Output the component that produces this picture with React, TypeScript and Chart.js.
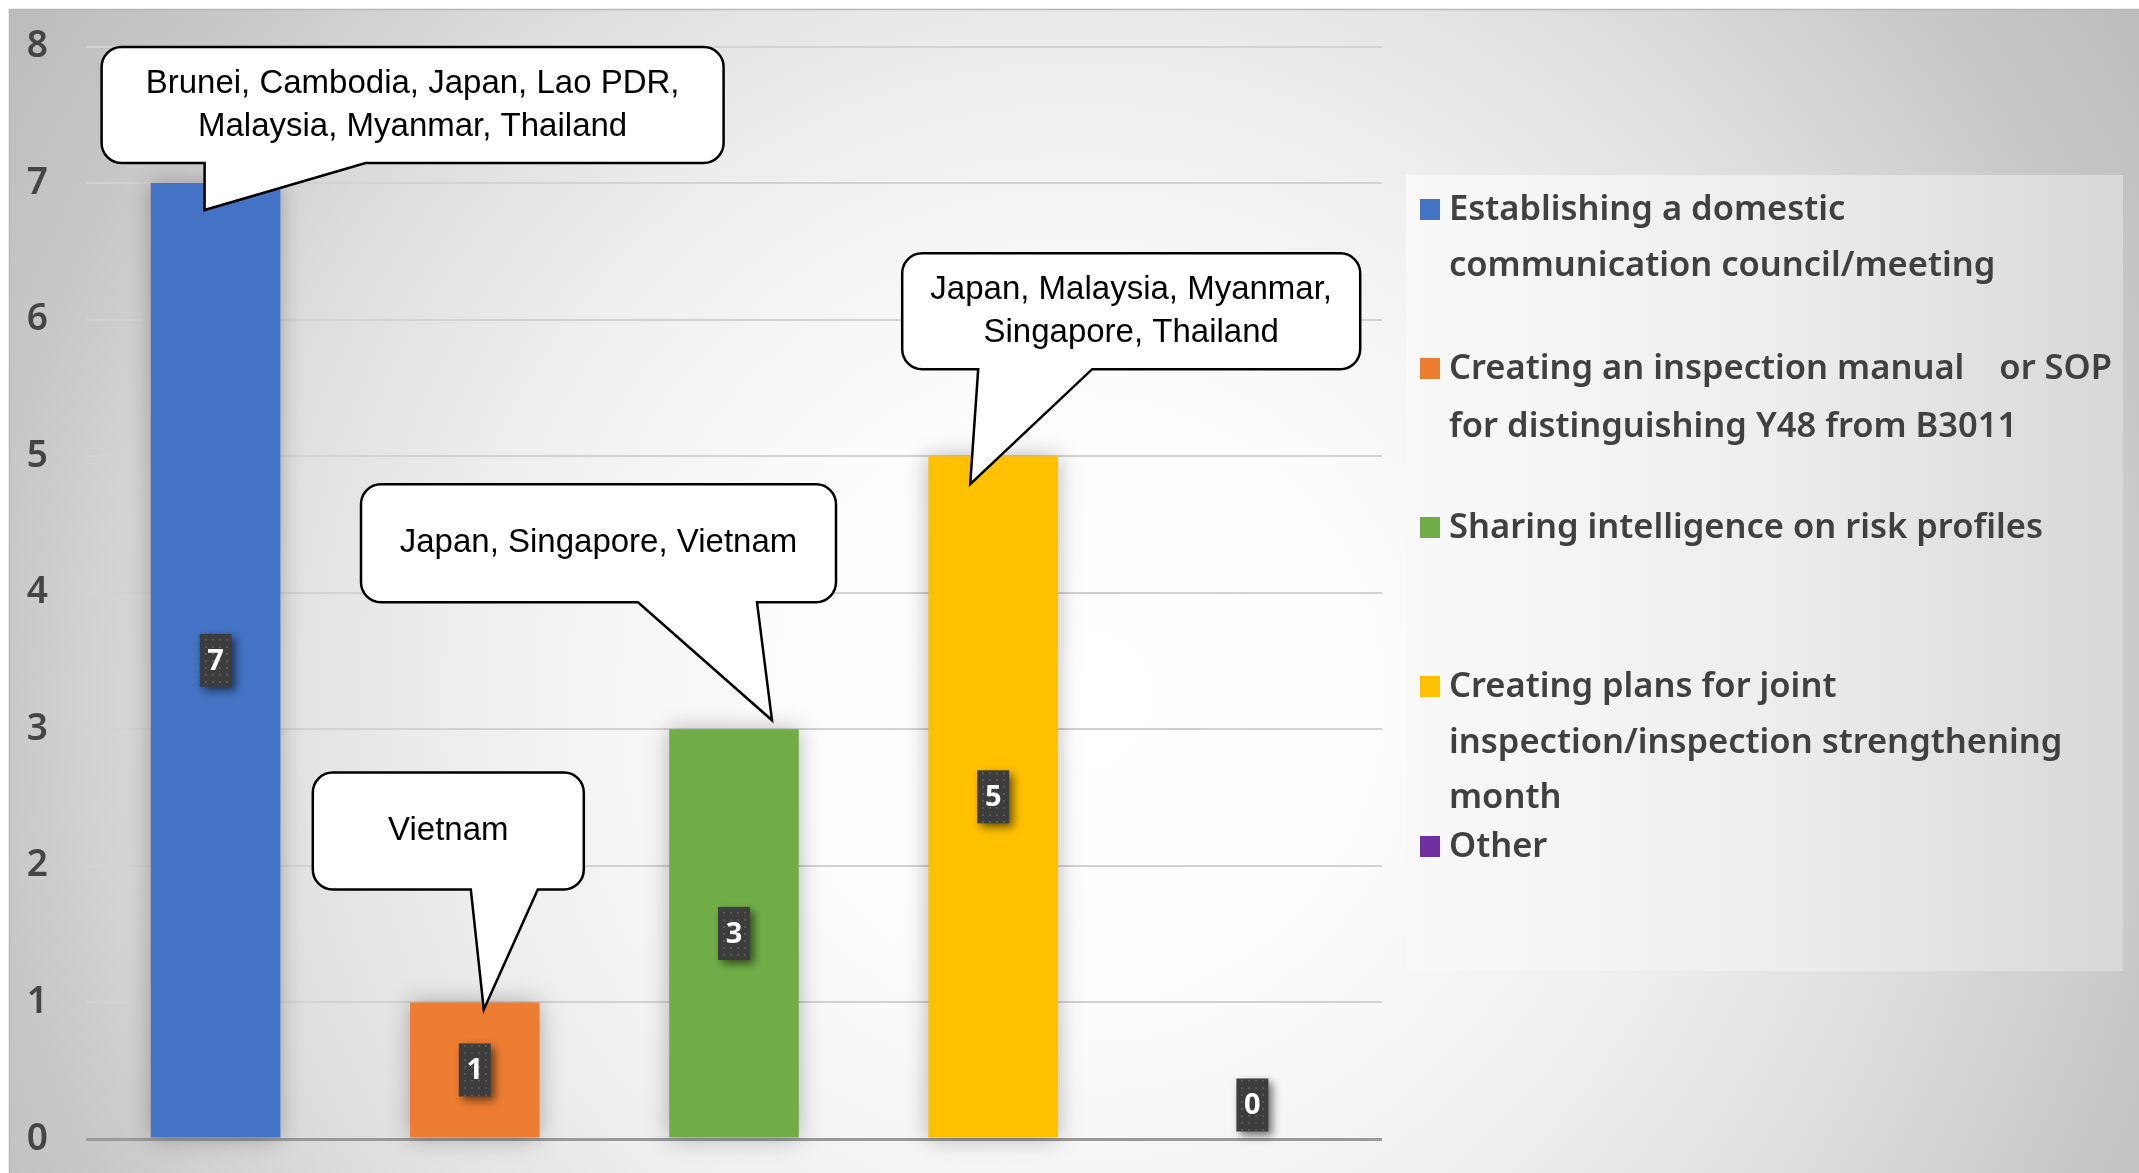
import { useEffect, useRef } from "react";
import { Chart, registerables } from "chart.js";

Chart.register(...registerables);

// ---------- data ----------
const categories: string[][] = [
  ["Establishing a domestic", "communication council/meeting"],
  ["Creating an inspection manual\u3000or SOP", "for distinguishing Y48 from B3011"],
  ["Sharing intelligence on risk profiles"],
  ["Creating plans for joint", "inspection/inspection strengthening", "month"],
  ["Other"],
];
const values = [7, 1, 3, 5, 0];
const barColors = ["#4472C4", "#ED7D31", "#70AD47", "#FFC000", "#7030A0"];
const yMin = 0;
const yMax = 8;
const yStep = 1;
const calloutTexts: (string[] | null)[] = [
  ["Brunei, Cambodia, Japan, Lao PDR,", "Malaysia, Myanmar, Thailand"],
  ["Vietnam"],
  ["Japan, Singapore, Vietnam"],
  ["Japan, Malaysia, Myanmar,", "Singapore, Thailand"],
  null,
];

// ---------- layout / style ----------
const W = 2139;
const H = 1173;
// callout geometry relative to (bar center x, value pixel y)
const calloutGeom: ({ box: number[]; base: number[]; tip: number[] } | null)[] = [
  { box: [-114, -136, 622, 116], base: [-11, 150], tip: [-11, 27] },
  { box: [-162, -230, 271, 117], base: [-4, 63], tip: [9, 7] },
  { box: [-373, -245, 475, 118], base: [-96, 23], tip: [38, -9] },
  { box: [-91, -203, 458, 116], base: [-15, 99], tip: [-23, 28] },
  null,
];
const legendBox = { x: 1406, y: 175, w: 717, h: 796 };
const legendLineY = [[34, 90], [193, 251], [352], [511, 567, 622], [671]];

function makePattern(ctx: CanvasRenderingContext2D) {
  const c = document.createElement("canvas");
  c.width = 7;
  c.height = 7;
  const p = c.getContext("2d")!;
  p.fillStyle = "#3d3d3d";
  p.fillRect(0, 0, 7, 7);
  p.fillStyle = "#595959";
  p.fillRect(2, 2, 2, 2);
  return ctx.createPattern(c, "repeat")!;
}

const bgPlugin = {
  id: "bgPlugin",
  beforeDraw(chart: any) {
    const ctx: CanvasRenderingContext2D = chart.ctx;
    ctx.save();
    ctx.fillStyle = "#ffffff";
    ctx.fillRect(0, 0, W, H);
    const g = ctx.createRadialGradient(1080, 700, 0, 1080, 700, 1250);
    g.addColorStop(0, "#ffffff");
    g.addColorStop(0.25, "#fcfcfc");
    g.addColorStop(0.5, "#eeeeee");
    g.addColorStop(0.7, "#dcdcdc");
    g.addColorStop(0.87, "#c8c8c8");
    g.addColorStop(1, "#bdbdbd");
    ctx.fillStyle = g;
    ctx.fillRect(9, 9, W - 9, H - 9);
    ctx.strokeStyle = "#b8b8b8";
    ctx.lineWidth = 1.5;
    ctx.beginPath();
    ctx.moveTo(9.5, H);
    ctx.lineTo(9.5, 9.5);
    ctx.lineTo(W, 9.5);
    ctx.stroke();
    ctx.restore();
  },
  beforeDatasetsDraw(chart: any) {
    const ctx: CanvasRenderingContext2D = chart.ctx;
    ctx.save();
    ctx.shadowColor = "rgba(0,0,0,0.28)";
    ctx.shadowBlur = 22;
    ctx.shadowOffsetX = 0;
    ctx.shadowOffsetY = 0;
  },
  afterDatasetsDraw(chart: any) {
    const ctx: CanvasRenderingContext2D = chart.ctx;
    ctx.restore();
    // data labels
    const meta = chart.getDatasetMeta(0);
    const pattern = makePattern(ctx);
    meta.data.forEach((el: any, i: number) => {
      const v = values[i];
      const cx = el.x;
      const cy = v > 0 ? (el.y + el.base) / 2 : el.base - 34;
      const bw = 32;
      const bh = 53;
      ctx.save();
      ctx.shadowColor = "rgba(0,0,0,0.55)";
      ctx.shadowBlur = 8;
      ctx.shadowOffsetX = 4;
      ctx.shadowOffsetY = 4;
      ctx.fillStyle = pattern;
      ctx.fillRect(cx - bw / 2, cy - bh / 2, bw, bh);
      ctx.restore();
      ctx.save();
      ctx.fillStyle = "#ffffff";
      ctx.font = "bold 29px 'Noto Sans'";
      ctx.textAlign = "center";
      ctx.textBaseline = "middle";
      ctx.fillText(String(v), cx, cy + 1);
      ctx.restore();
    });
  },
  afterDraw(chart: any) {
    const ctx: CanvasRenderingContext2D = chart.ctx;
    // legend panel
    ctx.save();
    const lg = ctx.createLinearGradient(legendBox.x, 0, legendBox.x + legendBox.w, 0);
    lg.addColorStop(0, "#f9f9f9");
    lg.addColorStop(0.5, "#eeeeee");
    lg.addColorStop(1, "#d8d8d8");
    ctx.fillStyle = lg;
    ctx.fillRect(legendBox.x, legendBox.y, legendBox.w, legendBox.h);
    ctx.font = "600 34.5px 'Noto Sans'";
    ctx.textBaseline = "middle";
    ctx.textAlign = "left";
    categories.forEach((lines, i) => {
      const ys = legendLineY[i];
      ctx.fillStyle = barColors[i];
      ctx.fillRect(legendBox.x + 14, legendBox.y + ys[0] - 10, 20, 21);
      ctx.fillStyle = "#404040";
      lines.forEach((ln, j) => {
        ctx.fillText(ln, legendBox.x + 43, legendBox.y + ys[j] + 1);
      });
    });
    ctx.restore();

    // callouts
    const meta = chart.getDatasetMeta(0);
    const yScale = chart.scales.y;
    calloutTexts.forEach((lines, i) => {
      const geom = calloutGeom[i];
      if (!lines || !geom) return;
      const cx = meta.data[i].x;
      const vy = yScale.getPixelForValue(values[i]);
      const x0 = cx + geom.box[0];
      const y0 = vy + geom.box[1];
      const x1 = x0 + geom.box[2];
      const y1 = y0 + geom.box[3];
      const r = 20;
      const bl = cx + geom.base[0];
      const br = cx + geom.base[1];
      const tx = cx + geom.tip[0];
      const ty = vy + geom.tip[1];
      ctx.save();
      ctx.beginPath();
      ctx.moveTo(x0 + r, y0);
      ctx.lineTo(x1 - r, y0);
      ctx.arcTo(x1, y0, x1, y0 + r, r);
      ctx.lineTo(x1, y1 - r);
      ctx.arcTo(x1, y1, x1 - r, y1, r);
      ctx.lineTo(br, y1);
      ctx.lineTo(tx, ty);
      ctx.lineTo(bl, y1);
      ctx.lineTo(x0 + r, y1);
      ctx.arcTo(x0, y1, x0, y1 - r, r);
      ctx.lineTo(x0, y0 + r);
      ctx.arcTo(x0, y0, x0 + r, y0, r);
      ctx.closePath();
      ctx.fillStyle = "#ffffff";
      ctx.fill();
      ctx.strokeStyle = "#000000";
      ctx.lineWidth = 2.5;
      ctx.lineJoin = "miter";
      ctx.stroke();
      ctx.fillStyle = "#000000";
      ctx.font = "33px 'Liberation Sans'";
      ctx.textAlign = "center";
      ctx.textBaseline = "middle";
      const mx = (x0 + x1) / 2;
      const my = (y0 + y1) / 2;
      const lh = 43;
      lines.forEach((ln, j) => {
        ctx.fillText(ln, mx, my + (j - (lines.length - 1) / 2) * lh);
      });
      ctx.restore();
    });
  },
};

export default function App() {
  const ref = useRef<HTMLCanvasElement | null>(null);
  useEffect(() => {
    document.body.style.margin = "0";
    document.body.style.overflow = "hidden";
    const canvas = ref.current!;
    const chart = new Chart(canvas, {
      type: "bar",
      data: {
        labels: categories as any,
        datasets: [
          {
            data: values,
            backgroundColor: barColors,
            borderWidth: 0,
            barPercentage: 0.5,
            categoryPercentage: 1,
            clip: false as any,
          },
        ],
      },
      options: {
        animation: false,
        responsive: false,
        maintainAspectRatio: false,
        layout: { padding: { top: 46.5, right: W - 1382, bottom: 34, left: 0 } },
        plugins: { legend: { display: false }, tooltip: { enabled: false } },
        scales: {
          x: { display: false },
          y: {
            min: yMin,
            max: yMax,
            border: { display: false },
            grid: {
              drawTicks: false,
              color: (c: any) => (c.tick && c.tick.value === 0 ? "#9a9a9a" : "#d2d2d2"),
              lineWidth: (c: any) => (c.tick && c.tick.value === 0 ? 3 : 2),
            },
            ticks: {
              stepSize: yStep,
              padding: 38,
              color: "#454545",
              font: { family: "'Noto Sans'", size: 37, weight: "600" as any },
            },
            afterFit: (scale: any) => {
              scale.width = 86;
              scale.paddingTop = 0;
              scale.paddingBottom = 0;
            },
          },
        },
      },
      plugins: [bgPlugin],
    });
    return () => chart.destroy();
  }, []);
  return (
    <div style={{ width: W, height: H }}>
      <canvas ref={ref} width={W} height={H} style={{ display: "block", width: W, height: H }} />
    </div>
  );
}
